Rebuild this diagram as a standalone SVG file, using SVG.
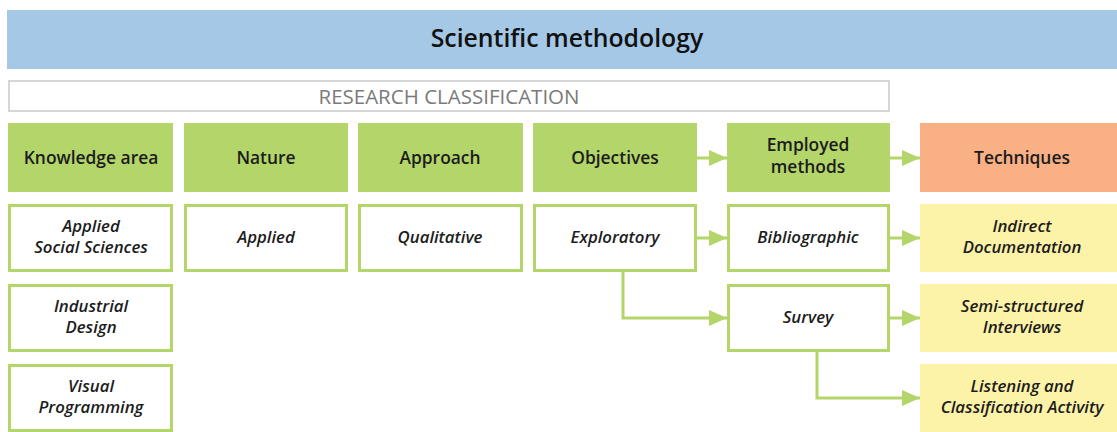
<svg xmlns="http://www.w3.org/2000/svg" width="1117" height="432" viewBox="0 0 1117 432">
  <style>
    .sans { font-family: "Open Sans", "Noto Sans", "Liberation Sans", sans-serif; }
    .head { fill: #b3d56a; }
    .headtxt { font-size: 17.4px; fill: #1c1c1c; font-weight: 600; text-anchor: middle; }
    .item { fill: #ffffff; stroke: #b3d56a; stroke-width: 3; }
    .tech { fill: #fdf3a8; }
    .itemtxt { font-size: 16.8px; font-style: italic; font-weight: 600; fill: #1c1c1c; text-anchor: middle; }
    .link { fill: none; stroke: #b3d56a; stroke-width: 3; marker-end: url(#arrow); }
  </style>
  <defs>
    <marker id="arrow" markerUnits="userSpaceOnUse" markerWidth="18" markerHeight="18" viewBox="0 0 18 18" refX="18" refY="9" orient="auto">
      <path d="M0,1 L18,9 L0,17 Z" fill="#b3d56a"/>
    </marker>
  </defs>

  <rect width="1117" height="432" fill="#ffffff"/>

  <!-- title banner -->
  <g id="title">
    <rect x="7" y="10" width="1110" height="59" fill="#a4c8e5"/>
    <text class="sans" x="567" y="47" font-size="24.8" font-weight="600" fill="#111111" text-anchor="middle">Scientific methodology</text>
  </g>

  <!-- classification banner -->
  <g id="classification">
    <rect x="9" y="81" width="880" height="30" fill="#ffffff" stroke="#d6d6d6" stroke-width="2"/>
    <text class="sans" x="449" y="103.5" font-size="20.5" fill="#7a7a7a" text-anchor="middle">RESEARCH CLASSIFICATION</text>
  </g>

  <!-- column headers -->
  <g id="knowledge-area">
    <rect class="head" x="8" y="123" width="165" height="69"/>
    <text class="sans headtxt" x="91" y="164">Knowledge area</text>
  </g>
  <g id="nature">
    <rect class="head" x="184" y="123" width="164" height="69"/>
    <text class="sans headtxt" x="266" y="164">Nature</text>
  </g>
  <g id="approach">
    <rect class="head" x="358" y="123" width="165" height="69"/>
    <text class="sans headtxt" x="440" y="164">Approach</text>
  </g>
  <g id="objectives">
    <rect class="head" x="533" y="123" width="164" height="69"/>
    <text class="sans headtxt" x="615" y="164">Objectives</text>
  </g>
  <g id="employed-methods">
    <rect class="head" x="727" y="123" width="163" height="69"/>
    <text class="sans headtxt" x="808" y="151">Employed</text>
    <text class="sans headtxt" x="808" y="173">methods</text>
  </g>
  <g id="techniques">
    <rect x="920" y="123" width="197" height="69" fill="#f9b085"/>
    <text class="sans headtxt" x="1022" y="164">Techniques</text>
  </g>

  <!-- knowledge areas -->
  <g id="applied-social-sciences">
    <rect class="item" x="9.5" y="205.5" width="162" height="65"/>
    <text class="sans itemtxt" x="91" y="232">Applied</text>
    <text class="sans itemtxt" x="91" y="253">Social Sciences</text>
  </g>
  <g id="industrial-design">
    <rect class="item" x="9.5" y="285.5" width="162" height="65"/>
    <text class="sans itemtxt" x="91" y="312">Industrial</text>
    <text class="sans itemtxt" x="91" y="333">Design</text>
  </g>
  <g id="visual-programming">
    <rect class="item" x="9.5" y="365.5" width="162" height="65"/>
    <text class="sans itemtxt" x="91" y="392">Visual</text>
    <text class="sans itemtxt" x="91" y="413">Programming</text>
  </g>

  <!-- nature / approach / objectives -->
  <g id="applied">
    <rect class="item" x="185.5" y="205.5" width="161" height="65"/>
    <text class="sans itemtxt" x="266" y="243">Applied</text>
  </g>
  <g id="qualitative">
    <rect class="item" x="359.5" y="205.5" width="162" height="65"/>
    <text class="sans itemtxt" x="440" y="243">Qualitative</text>
  </g>
  <g id="exploratory">
    <rect class="item" x="534.5" y="205.5" width="161" height="65"/>
    <text class="sans itemtxt" x="615" y="243">Exploratory</text>
  </g>

  <!-- methods -->
  <g id="bibliographic">
    <rect class="item" x="728.5" y="205.5" width="160" height="65"/>
    <text class="sans itemtxt" x="808" y="243">Bibliographic</text>
  </g>
  <g id="survey">
    <rect class="item" x="728.5" y="285.5" width="160" height="65"/>
    <text class="sans itemtxt" x="808" y="323">Survey</text>
  </g>

  <!-- techniques -->
  <g id="indirect-documentation">
    <rect class="tech" x="920" y="204" width="197" height="68"/>
    <text class="sans itemtxt" x="1022" y="232">Indirect</text>
    <text class="sans itemtxt" x="1022" y="253">Documentation</text>
  </g>
  <g id="semi-structured-interviews">
    <rect class="tech" x="920" y="284" width="197" height="68"/>
    <text class="sans itemtxt" x="1022" y="312">Semi-structured</text>
    <text class="sans itemtxt" x="1022" y="333">Interviews</text>
  </g>
  <g id="listening-classification">
    <rect class="tech" x="920" y="364" width="197" height="68"/>
    <text class="sans itemtxt" x="1022" y="392">Listening and</text>
    <text class="sans itemtxt" x="1022" y="413">Classification Activity</text>
  </g>

  <!-- connectors -->
  <g id="connectors">
    <path class="link" d="M697,158 L727,158"/>
    <path class="link" d="M890,158 L920,158"/>
    <path class="link" d="M697,238 L727,238"/>
    <path class="link" d="M890,238 L920,238"/>
    <path class="link" d="M623,272 L623,318 L727,318"/>
    <path class="link" d="M890,318 L920,318"/>
    <path class="link" d="M817,352 L817,398 L920,398"/>
  </g>
</svg>
